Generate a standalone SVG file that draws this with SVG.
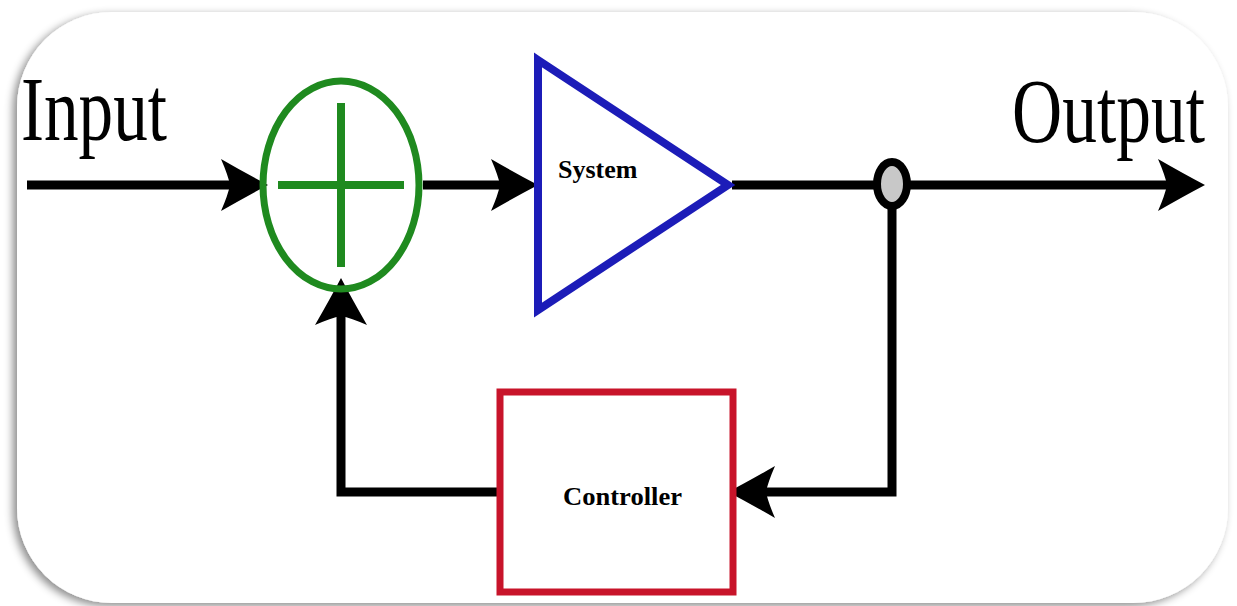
<svg xmlns="http://www.w3.org/2000/svg" width="1237" height="606" viewBox="0 0 1237 606">
<style>
.ln{fill:none;stroke:#000;stroke-width:9;stroke-linejoin:miter}
.lbl{font-family:"Liberation Serif",serif;fill:#000}
.big{font-size:92px}
.sm{font-size:26px;font-weight:bold}
</style>
<defs>
<filter id="sh" x="-5%" y="-5%" width="110%" height="112%">
<feDropShadow dx="-4" dy="3" stdDeviation="4" flood-color="#000" flood-opacity="0.45"/>
</filter>
<marker id="ah" markerUnits="userSpaceOnUse" viewBox="0 -27 48 54" markerWidth="48" markerHeight="54" refX="10" refY="0" orient="auto">
<path d="M47,0 Q26,-11 0,-26 Q7,-10 9,0 Q7,10 0,26 Q26,11 47,0 Z" fill="#000"/>
</marker>
</defs>
<rect width="1237" height="606" fill="#fff"/>
<rect id="card" x="17" y="12" width="1211" height="591" rx="95" ry="95" fill="#fff" filter="url(#sh)"/>
<g id="connectors">
<line class="ln" x1="27" y1="185" x2="231" y2="185" marker-end="url(#ah)"/>
<line class="ln" x1="423" y1="185" x2="501" y2="185" marker-end="url(#ah)"/>
<line class="ln" x1="732" y1="185" x2="1168" y2="185" marker-end="url(#ah)"/>
<polyline class="ln" points="892,205 892,492 765,492" marker-end="url(#ah)"/>
<polyline class="ln" points="497,492 341,492 341,315" marker-end="url(#ah)"/>
</g>
<g id="input-label"><text class="lbl big" x="21" y="140" textLength="146" lengthAdjust="spacingAndGlyphs">Input</text></g>
<g id="output-label"><text class="lbl big" x="1012" y="142" textLength="193" lengthAdjust="spacingAndGlyphs">Output</text></g>
<g id="sum">
<ellipse cx="341" cy="185" rx="78" ry="104" fill="none" stroke="#1f8a1f" stroke-width="7"/>
<line x1="278" y1="185" x2="404" y2="185" stroke="#1f8a1f" stroke-width="8"/>
<line x1="341" y1="103" x2="341" y2="267" stroke="#1f8a1f" stroke-width="8"/>
</g>
<g id="system">
<polygon points="538,60 728,185 538,310" fill="#fff" stroke="#1c1cb8" stroke-width="8"/>
<text class="lbl sm" x="558" y="178">System</text>
</g>
<g id="junction">
<ellipse cx="892" cy="184" rx="15" ry="22" fill="#c8c8c8" stroke="#000" stroke-width="8"/>
</g>
<g id="controller">
<rect x="500" y="392" width="233" height="200" fill="#fff" stroke="#c8142a" stroke-width="7"/>
<text class="lbl sm" x="563" y="505" textLength="119" lengthAdjust="spacingAndGlyphs">Controller</text>
</g>
</svg>
